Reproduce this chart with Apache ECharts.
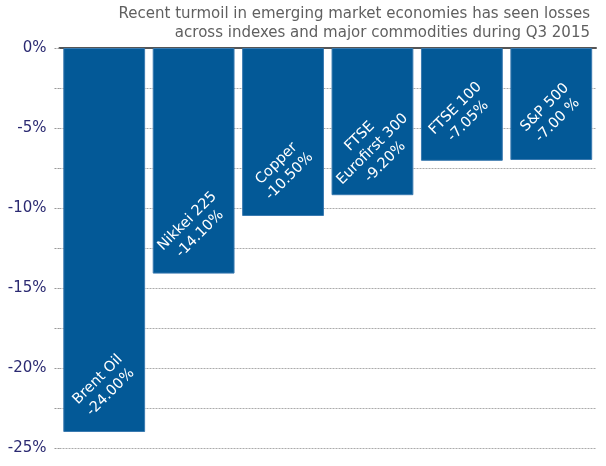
<!DOCTYPE html>
<html>
<head>
<meta charset="utf-8">
<script src="https://cdn.jsdelivr.net/npm/echarts@6/dist/echarts.min.js"></script>
<style>
html,body{margin:0;padding:0;background:#fff;}
#c{width:606px;height:466px;}
</style>
</head>
<body>
<div id="c"></div>
<script>
const titleLines = ['Recent turmoil in emerging market economies has seen losses', 'across indexes and major commodities during Q3 2015'];
const categories = ['Brent Oil', 'Nikkei 225', 'Copper', 'FTSE\nEurofirst 300', 'FTSE 100', 'S&P 500'];
const values = [-24.00, -14.10, -10.50, -9.20, -7.05, -7.00];
const valueLabels = ['-24.00%', '-14.10%', '-10.50%', '-9.20%', '-7.05%', '-7.00 %'];
const yMin = -25, yMax = 0, yStep = 2.5;

const chart = echarts.init(document.getElementById('c'), null, {renderer: 'canvas'});
const fontFam = '"DejaVu Sans", "Noto Sans", sans-serif';
chart.setOption({
  animation: false,
  graphic: [{
    type: 'text', right: 16, top: 5,
    style: {
      text: titleLines.join('\n'), textAlign: 'right',
      font: '15px ' + fontFam, fill: '#606060', lineHeight: 19
    }
  }],
  grid: {left: 59.5, right: 10, top: 48, bottom: 18},
  xAxis: {
    type: 'category', data: categories, position: 'top',
    axisLine: {show: true, onZero: true, lineStyle: {color: '#555', width: 2}},
    axisTick: {show: false}, axisLabel: {show: false}
  },
  yAxis: {
    type: 'value', min: yMin, max: yMax, interval: yStep,
    axisLine: {show: false},
    axisTick: {show: true, length: 5, lineStyle: {color: '#999', type: [2, 1]}},
    splitLine: {show: true, lineStyle: {color: '#aaa', type: [2, 1], width: 1}},
    axisLabel: {
      margin: 13,
      fontFamily: fontFam, fontSize: 15, color: '#2b2a72',
      formatter: v => (Math.abs(v % 5) < 1e-9 ? v + '%' : '')
    }
  },
  series: [{
    type: 'bar',
    data: values,
    barCategoryGap: '8.5%',
    itemStyle: {color: '#035997', borderColor: '#3a7ab0', borderWidth: 1},
    label: {
      show: true,
      position: 'insideBottom',
      distance: 46,
      rotate: 45,
      align: 'center',
      verticalAlign: 'middle',
      color: '#fff',
      fontFamily: fontFam, fontSize: 14.5, lineHeight: 18,
      formatter: p => categories[p.dataIndex] + '\n' + valueLabels[p.dataIndex]
    }
  }]
});
</script>
</body>
</html>
